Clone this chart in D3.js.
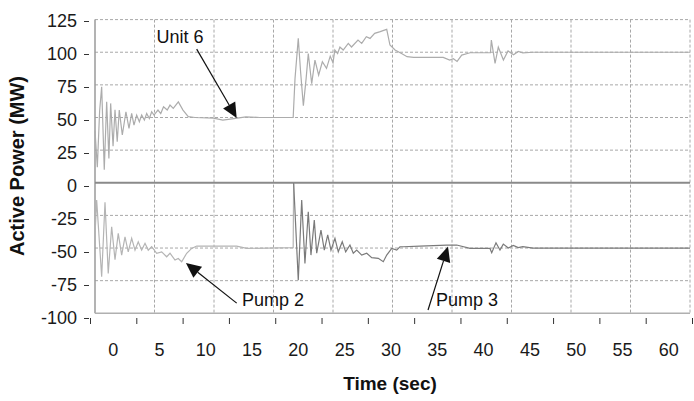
<!DOCTYPE html>
<html>
<head>
<meta charset="utf-8">
<script src="https://cdn.jsdelivr.net/npm/d3@7"></script>
<style>
  html, body { margin: 0; padding: 0; background: #fff; }
  svg { display: block; font-family: "Liberation Sans", Arial, sans-serif; }
</style>
</head>
<body>
<svg id="chart" width="694" height="401"></svg>
<script>
// ---------------- DATA ----------------
const unit6Time  = [-1.8,-1.55,-1.3,-1.08,-0.8,-0.54,-0.3,-0.11,0.15,0.36,0.6,0.82,1.15,1.54,1.87,2.16,2.41,2.70,2.99,3.24,3.53,3.78,4.07,4.32,4.57,5.0,5.3,5.6,6.0,6.3,6.65,7.2,7.7,8.27,9.0,11.0,12.0,13.0,14.5,16.0,19.6,19.8,20.15,20.4,20.7,21.0,21.23,21.6,21.95,22.35,22.75,23.2,23.6,23.9,24.1,24.4,24.65,25.0,25.55,25.9,26.6,27.0,27.5,27.9,28.4,29.0,29.3,29.7,30.05,30.6,31.3,31.9,32.6,35.8,36.5,36.9,37.3,37.8,38.7,40.9,41.0,41.4,41.75,42.3,42.8,43.4,43.9,44.4,45.5,62.45];
const unit6Power = [40,12,55,73.6,10,62,18.7,60.8,28,56,31.4,55.7,36.6,54.4,41.7,53.1,44.2,51.9,46.8,51.9,48,53.1,49.3,54.4,51.9,55.7,53,58.2,55.7,59.5,57,62,55.7,50.6,50,49.5,48,49,50.5,50,50,80,110.6,85,59,80,99,76,94,82.5,92.7,87.6,97,92,101.7,99,104,101.7,106.8,104,109.3,106.8,111.9,110.6,114.5,115.8,116.6,117.5,105.5,101.7,99,96.6,96,96,94,95,93,97.8,99.6,99.6,109.3,91.5,104,94,101,98,100.6,99.5,100,100];

const pump2Time  = [-1.8,-1.62,-1.08,-0.72,-0.37,0,0.36,0.71,1.08,1.44,1.79,2.16,2.52,2.87,3.24,3.6,3.95,4.32,4.86,5.4,5.94,6.3,6.84,7.19,7.56,8.1,8.64,9.18,13.5,14.58,19.6,19.65];
const pump2Power = [-40,-13.3,-72,-15,-69.4,-33.7,-59,-38.8,-55.4,-41.4,-52.9,-42.6,-51.6,-45.2,-51.6,-46.4,-51.6,-49,-54,-52.9,-56.7,-54,-59.2,-58,-60.5,-54,-50.3,-48.5,-48.5,-50.3,-49.7,0];

const pump3Time  = [19.65,20.15,20.52,20.87,21.23,21.52,21.88,22.14,22.6,22.96,23.33,23.68,24.11,24.47,24.9,25.27,25.73,26.09,26.46,27.0,27.54,28.08,28.79,29.33,29.7,30.24,30.78,31.13,31.49,33.29,36.18,37.26,38.69,40.85,41.04,41.5,41.93,42.29,42.83,43.37,43.9,44.4,45.5,62.45];
const pump3Power = [0,-74.6,-13.3,-61.8,-22.2,-55.4,-28.6,-54,-36.2,-51.6,-40,-51.6,-42.6,-52.9,-45.2,-52.9,-47.7,-54,-51.6,-55.4,-54,-57.4,-57.9,-60.5,-55.4,-50.3,-51.6,-49,-49,-48.5,-47.7,-47.7,-50.3,-50.3,-53.6,-46,-51.6,-47,-50,-48,-49.7,-49,-50,-50];

const xTickLabels = [0,5,10,15,20,25,30,35,40,45,50,55,60];
const yTickLabels = [125,100,75,50,25,0,-25,-50,-75,-100];

// annotations: label, text anchor (t, v), arrow tail (t, v), arrow tip (t, v)
const annoLabels = ["Unit 6", "Pump 2", "Pump 3"];
const annoText   = [[4.83,107],[14.07,-94.6],[35.02,-94.6]];
const annoTail   = [[9.18,102.4],[13.5,-92.2],[34.16,-97.5]];
const annoTip    = [[13.5,49.6],[8.02,-61.5],[36.32,-48.9]];

// ---------------- LAYOUT ----------------
const svg = d3.select("#chart");
const X0 = 95, X1 = 690, Y0 = 19.6, Y1 = 313.3;

const x = d3.scaleLinear().domain([-1.8, 62.45]).range([X0, X1]);
const y = d3.scaleLinear().domain([-100, 125]).range([Y1, Y0]);
// axes drawn offset from the plot frame (as in the original)
const xAxisScale = d3.scaleLinear().domain([-2.5, 62.5]).range([90, 692]);
const yAxisScale = d3.scaleLinear().domain([-100, 125]).range([318, 21]);
const gridX = d3.scaleLinear().domain([0, 10]).range([X0, X1]);

svg.append("rect").attr("width", 694).attr("height", 401).attr("fill", "#fff");

// gridlines
const grid = svg.append("g").attr("stroke", "#a8a8a8").attr("stroke-width", 1)
  .attr("stroke-dasharray", "3,2").attr("fill", "none");
d3.range(1, 11).forEach(i => {
  grid.append("line").attr("x1", gridX(i)).attr("x2", gridX(i)).attr("y1", Y0).attr("y2", Y1);
});
yTickLabels.filter(v => v !== 0 && v !== -100).forEach(v => {
  grid.append("line").attr("x1", X0).attr("x2", X1).attr("y1", y(v)).attr("y2", y(v));
});

// frame (left + bottom solid)
svg.append("line").attr("x1", X0).attr("x2", X0).attr("y1", Y0).attr("y2", Y1)
  .attr("stroke", "#9a9a9a").attr("stroke-width", 1.5);
svg.append("line").attr("x1", X0).attr("x2", X1).attr("y1", Y1).attr("y2", Y1)
  .attr("stroke", "#b0b0b0").attr("stroke-width", 1.5);
// zero line
svg.append("line").attr("x1", X0).attr("x2", X1).attr("y1", y(0)).attr("y2", y(0))
  .attr("stroke", "#8a8a8a").attr("stroke-width", 2);

// series
const line = d3.line().x(d => x(d[0])).y(d => y(d[1]));
const mk = (ts, vs) => ts.map((t, i) => [t, vs[i]]);
svg.append("path").datum(mk(pump2Time, pump2Power)).attr("d", line)
  .attr("fill", "none").attr("stroke", "#b4b4b4").attr("stroke-width", 1.2);
svg.append("path").datum(mk(unit6Time, unit6Power)).attr("d", line)
  .attr("fill", "none").attr("stroke", "#acacac").attr("stroke-width", 1.2);
svg.append("path").datum(mk(pump3Time, pump3Power)).attr("d", line)
  .attr("fill", "none").attr("stroke", "#7a7a7a").attr("stroke-width", 1.2);

// y axis (ticks + labels)
const yAxis = d3.axisLeft(yAxisScale).tickValues(yTickLabels).tickSize(5).tickPadding(7)
  .tickFormat(d => String(d));
const gy = svg.append("g").attr("transform", "translate(89,0)").call(yAxis);
gy.select(".domain").remove();
gy.selectAll(".tick line").attr("stroke", "#333");
gy.selectAll(".tick text").attr("font-size", 18).attr("fill", "#1a1a1a")
  .attr("font-family", "'Liberation Sans', Arial, sans-serif");

// x axis ticks (between labels)
const xTickPos = d3.range(-2.5, 63, 5);
const xAxis = d3.axisBottom(xAxisScale).tickValues(xTickPos).tickSize(6).tickFormat("");
const gx = svg.append("g").attr("transform", "translate(0,318)").call(xAxis);
gx.select(".domain").remove();
gx.selectAll(".tick line").attr("stroke", "#333");
// x labels
svg.append("g").selectAll("text").data(xTickLabels).join("text")
  .attr("x", d => xAxisScale(d)).attr("y", 356)
  .attr("text-anchor", "middle").attr("font-size", 18).attr("fill", "#1a1a1a")
  .text(d => d);

// axis titles
svg.append("text").attr("x", 390).attr("y", 390).attr("text-anchor", "middle")
  .attr("font-size", 19).attr("font-weight", "bold").attr("fill", "#111").text("Time (sec)");
svg.append("text").attr("transform", "translate(24,166) rotate(-90)").attr("text-anchor", "middle")
  .attr("font-size", 20).attr("font-weight", "bold").attr("fill", "#111").text("Active Power (MW)");

// annotations
const ann = svg.append("g");
annoLabels.forEach((lab, i) => {
  const [tx, ty] = [x(annoTail[i][0]), y(annoTail[i][1])];
  const [px, py] = [x(annoTip[i][0]), y(annoTip[i][1])];
  const dx = px - tx, dy = py - ty, L = Math.hypot(dx, dy);
  const ux = dx / L, uy = dy / L, hl = 15, hw = 7;
  const bx = px - ux * hl, by = py - uy * hl;
  ann.append("line").attr("x1", tx).attr("y1", ty).attr("x2", bx).attr("y2", by)
    .attr("stroke", "#111").attr("stroke-width", 1.2);
  ann.append("path")
    .attr("d", `M${px},${py}L${bx - uy * hw},${by + ux * hw}L${bx + uy * hw},${by - ux * hw}Z`)
    .attr("fill", "#111");
  ann.append("text").attr("x", x(annoText[i][0])).attr("y", y(annoText[i][1]))
    .attr("font-size", 18).attr("fill", "#111").text(lab);
});
</script>
</body>
</html>
